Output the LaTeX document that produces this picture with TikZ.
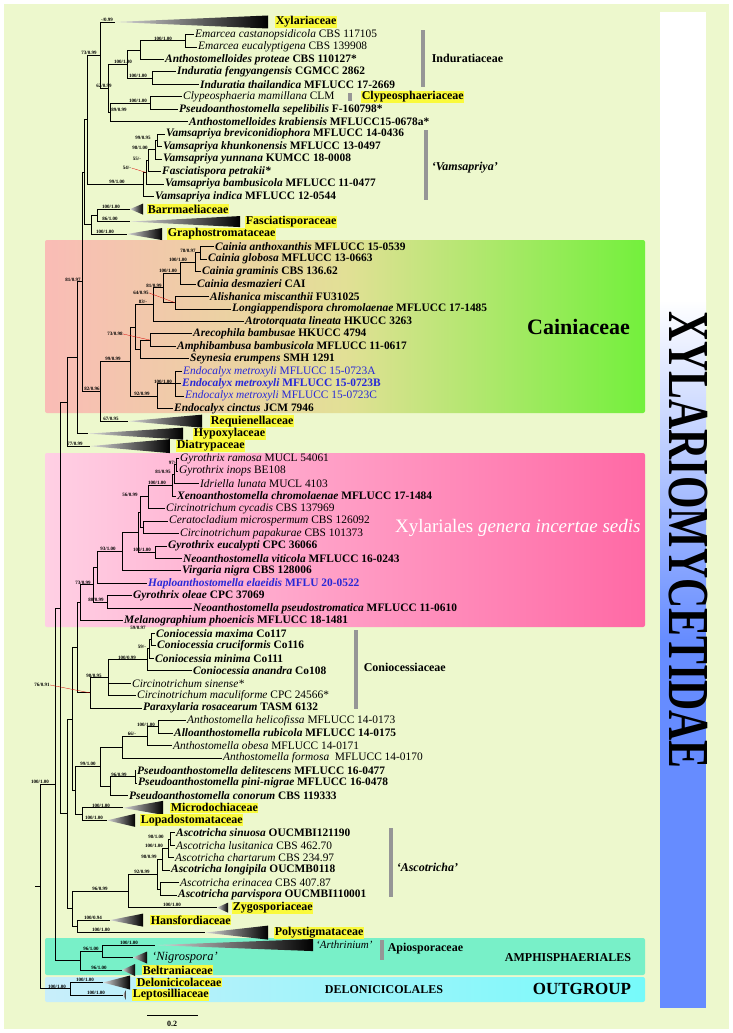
\documentclass[tikz,border=0pt]{standalone}
\usepackage{fontspec}
\usepackage{graphicx}
\setmainfont{Liberation Serif}
\usetikzlibrary{calc}
\definecolor{bgc}{RGB}{237,248,205}
\definecolor{cpink}{RGB}{250,188,182}
\definecolor{cmid}{RGB}{226,224,150}
\definecolor{cgreen}{RGB}{115,240,60}
\definecolor{ipinkL}{RGB}{255,208,228}
\definecolor{ipinkR}{RGB}{255,105,165}
\definecolor{amph}{RGB}{120,240,200}
\definecolor{outL}{RGB}{200,238,250}
\definecolor{outR}{RGB}{118,250,250}
\definecolor{barblue}{RGB}{102,140,255}
\definecolor{txtblue}{RGB}{40,40,215}
\definecolor{hl}{RGB}{250,250,60}
\definecolor{gbar}{RGB}{150,150,150}
\newcommand\cladetri[5]{%
  \coordinate (#1) at (#2,#3);
  \shade[left color=black!15, right color=black] (#1) -- (#4,{#3-#5/12.474}) -- (#4,{#3+#5/12.474}) -- cycle;}
\begin{document}
\begin{tikzpicture}[x=1pt,y=-1pt,
  br/.style={line width=0.8pt},
  lr/.style={anchor=west, inner sep=1pt, font=\fontsize{11.4}{12}\selectfont},
  lb/.style={anchor=west, inner sep=1pt, font=\fontsize{11.4}{12}\selectfont\bfseries},
  bs/.style={anchor=south, inner sep=0.4pt, font=\fontsize{5}{5}\selectfont\bfseries},
  fam/.style={anchor=west, inner sep=0.6pt, fill=hl, font=\fontsize{12}{13}\selectfont\bfseries},
  brk/.style={anchor=west, inner sep=0.6pt, font=\fontsize{12}{13}\selectfont\bfseries},
  lead/.style={red!85!black, line width=0.3pt}]
\useasboundingbox (0,0) rectangle (733,1033);
\fill[white] (0,0) rectangle (733,1033);
\fill[bgc] (4,4) rectangle (729,1029);
% coloured boxes
\shade[left color=cpink, right color=cgreen, middle color=cmid, rounded corners=2pt] (45,240) rectangle (645,413);
\shade[left color=ipinkL, right color=ipinkR, rounded corners=2pt] (45,453) rectangle (645,627);
\fill[amph, rounded corners=2pt] (45,938) rectangle (645,975);
\shade[left color=outL, right color=outR, rounded corners=2pt] (45,977) rectangle (645,1002);
% right bar
\fill[white] (660,12) rectangle (706,300);
\shade[top color=white, bottom color=barblue] (660,300) rectangle (706,640);
\fill[barblue] (660,640) rectangle (706,1008);
\node[rotate=-90, inner sep=0, font=\fontsize{58}{58}\selectfont\bfseries] (sub) at (688,540) {\scalebox{0.72}[1]{XYLARIOMYCETIDAE}};
% group texts
\node[anchor=west, inner sep=0, font=\fontsize{22}{22}\selectfont\bfseries] (cain) at (527,327) {Cainiaceae};
\node[anchor=west, inner sep=0, text=white, font=\fontsize{19}{19}\selectfont] (incs) at (395,528) {Xylariales \textit{genera incertae sedis}};
\node[inner sep=0, font=\fontsize{12}{12}\selectfont\bfseries] (amphis) at (568,958) {AMPHISPHAERIALES};
\node[inner sep=0, font=\fontsize{12}{12}\selectfont\bfseries] (delonic) at (384,990) {DELONICICOLALES};
\node[inner sep=0, font=\fontsize{17}{17}\selectfont\bfseries] (outg) at (582,989) {OUTGROUP};
% grey bars and bracket labels
\fill[gbar] (421,30) rectangle (425,87);
\fill[gbar] (348,93) rectangle (352,101);
\fill[gbar] (424,130) rectangle (428,200);
\fill[gbar] (354,630) rectangle (358,709);
\fill[gbar] (389,828) rectangle (393,897);
\fill[gbar] (380,940) rectangle (384,960);
\node[brk] (bInd) at (431,58) {Induratiaceae};
\node[fam] (bCly) at (361,97) {Clypeosphaeriaceae};
\node[brk] (bVam) at (431,168) {\itshape `Vamsapriya'};
\node[brk] (bCon) at (363,667) {Coniocessiaceae};
\node[brk] (bAsc) at (396,867) {\itshape `Ascotricha'};
\node[brk] (bApi) at (387,949) {Apiosporaceae};
% scale bar
\coordinate (sb1) at (147,1015);
\coordinate (sb2) at (198,1015);
\draw[line width=0.8pt] (sb1) -- (sb2);
\node[inner sep=0, font=\fontsize{8}{8}\selectfont\bfseries] (sbl) at (172,1024) {0.2};

\begin{scope}[y=-12.474pt, yshift=-9.526pt]
% ---------- collapsed clades
\cladetri{xyl}{115}{1}{268}{6.5}
\cladetri{barr}{130}{16}{143}{5.5}
\cladetri{fasc}{130}{17}{240}{5.5}
\cladetri{graph}{127}{18}{162}{6}
\cladetri{requ}{128}{33}{202}{6.5}
\cladetri{hypo}{88}{34}{183}{6}
\cladetri{diat}{90}{35}{170}{7}
\cladetri{micro}{123}{64}{163}{7}
\cladetri{lopa}{107}{65}{135}{6.5}
\cladetri{zygo}{217}{72}{228}{5}
\cladetri{hansf}{110}{73}{143}{6.5}
\cladetri{poly}{205}{74}{268}{7}
\cladetri{arth}{155}{75}{313}{6}
\cladetri{nigro}{133}{76}{147}{6}
\cladetri{belt}{122}{77}{135}{6}
\cladetri{delon}{103}{78}{130}{7}
\cladetri{lepto}{123}{79}{126}{5}
\node[fam] (fXyl) at (275,1) {Xylariaceae};
\node[fam] (fBar) at (147,16) {Barrmaeliaceae};
\node[fam] (fFas) at (245,17) {Fasciatisporaceae};
\node[fam] (fGra) at (167,18) {Graphostromataceae};
\node[fam] (fReq) at (210,33) {Requienellaceae};
\node[fam] (fHyp) at (193,34) {Hypoxylaceae};
\node[fam] (fDia) at (176,35) {Diatrypaceae};
\node[fam] (fMic) at (170,64) {Microdochiaceae};
\node[fam] (fLop) at (140,65) {Lopadostomataceae};
\node[fam] (fZyg) at (232,72) {Zygosporiaceae};
\node[fam] (fHan) at (150,73) {Hansfordiaceae};
\node[fam] (fPol) at (274,74) {Polystigmataceae};
\node[lr, font=\fontsize{11}{12}\selectfont\itshape] (fArt) at (315,75) {`Arthrinium'};
\node[lr, font=\fontsize{12.5}{13}\selectfont\itshape] (fNig) at (151,76) {`Nigrospora'};
\node[fam] (fBel) at (142,77) {Beltraniaceae};
\node[fam] (fDel) at (136,78) {Delonicicolaceae};
\node[fam] (fLep) at (132,79) {Leptosilliaceae};
% ---------- leaves
\node[lr] (l2) at (194,2) {\itshape Emarcea castanopsidicola\upshape\ CBS 117105};
\node[lr] (l3) at (197,3) {\itshape Emarcea eucalyptigena\upshape\ CBS 139908};
\node[lb] (l4) at (164,4) {\itshape Anthostomelloides proteae\upshape\ CBS 110127*};
\node[lb] (l5) at (176,5) {\itshape Induratia fengyangensis\upshape\ CGMCC 2862};
\node[lb] (l6) at (199,6) {\itshape Induratia thailandica\upshape\ MFLUCC 17-2669};
\node[lr] (l7) at (182,7) {\itshape Clypeosphaeria mamillana\upshape\ CLM};
\node[lb] (l8) at (178,8) {\itshape Pseudoanthostomella sepelibilis\upshape\ F-160798*};
\node[lb] (l9) at (188,9) {\itshape Anthostomelloides krabiensis\upshape\ MFLUCC15-0678a*};
\node[lb] (l10) at (165,10) {\itshape Vamsapriya breviconidiophora\upshape\ MFLUCC 14-0436};
\node[lb] (l11) at (162,11) {\itshape Vamsapriya khunkonensis\upshape\ MFLUCC 13-0497};
\node[lb] (l12) at (162,12) {\itshape Vamsapriya yunnana\upshape\ KUMCC 18-0008};
\node[lb] (l13) at (161,13) {\itshape Fasciatispora petrakii*};
\node[lb] (l14) at (164,14) {\itshape Vamsapriya bambusicola\upshape\ MFLUCC 11-0477};
\node[lb] (l15) at (154,15) {\itshape Vamsapriya indica\upshape\ MFLUCC 12-0544};
\node[lb] (l19) at (214,19) {\itshape Cainia anthoxanthis\upshape\ MFLUCC 15-0539};
\node[lb] (l20) at (207,20) {\itshape Cainia globosa\upshape\ MFLUCC 13-0663};
\node[lb] (l21) at (201,21) {\itshape Cainia graminis\upshape\ CBS 136.62};
\node[lb] (l22) at (196,22) {\itshape Cainia desmazieri\upshape\ CAI};
\node[lb] (l23) at (209,23) {\itshape Alishanica miscanthii\upshape\ FU31025};
\node[lb] (l24) at (231,24) {\itshape Longiappendispora chromolaenae\upshape\ MFLUCC 17-1485};
\node[lb] (l25) at (244,25) {\itshape Atrotorquata lineata\upshape\ HKUCC 3263};
\node[lb] (l26) at (192,26) {\itshape Arecophila bambusae\upshape\ HKUCC 4794};
\node[lb] (l27) at (176,27) {\itshape Amphibambusa bambusicola\upshape\ MFLUCC 11-0617};
\node[lb] (l28) at (189,28) {\itshape Seynesia erumpens\upshape\ SMH 1291};
\node[lr, text=txtblue] (l29) at (182,29) {\itshape Endocalyx metroxyli\upshape\ MFLUCC 15-0723A};
\node[lb, text=txtblue] (l30) at (181,30) {\itshape Endocalyx metroxyli\upshape\ MFLUCC 15-0723B};
\node[lr, text=txtblue] (l31) at (184,31) {\itshape Endocalyx metroxyli\upshape\ MFLUCC 15-0723C};
\node[lb] (l32) at (173,32) {\itshape Endocalyx cinctus\upshape\ JCM 7946};
\node[lr] (l36) at (179,36) {\itshape Gyrothrix ramosa\upshape\ MUCL 54061};
\node[lr] (l37) at (178,37) {\itshape Gyrothrix inops\upshape\ BE108};
\node[lr] (l38) at (199,38) {\itshape Idriella lunata\upshape\ MUCL 4103};
\node[lb] (l39) at (176,39) {\itshape Xenoanthostomella chromolaenae\upshape\ MFLUCC 17-1484};
\node[lr] (l40) at (165,40) {\itshape Circinotrichum cycadis\upshape\ CBS 137969};
\node[lr] (l41) at (168,41) {\itshape Ceratocladium microspermum\upshape\ CBS 126092};
\node[lr] (l42) at (179,42) {\itshape Circinotrichum papakurae\upshape\ CBS 101373};
\node[lb] (l43) at (167,43) {\itshape Gyrothrix eucalypti\upshape\ CPC 36066};
\node[lb] (l44) at (182,44) {\itshape Neoanthostomella viticola\upshape\ MFLUCC 16-0243};
\node[lb] (l45) at (181,45) {\itshape Virgaria nigra\upshape\ CBS 128006};
\node[lb, text=txtblue] (l46) at (147,46) {\itshape Haploanthostomella elaeidis\upshape\ MFLU 20-0522};
\node[lb] (l47) at (132,47) {\itshape Gyrothrix oleae\upshape\ CPC 37069};
\node[lb] (l48) at (192,48) {\itshape Neoanthostomella pseudostromatica\upshape\ MFLUCC 11-0610};
\node[lb] (l49) at (123,49) {\itshape Melanographium phoenicis\upshape\ MFLUCC 18-1481};
\node[lb] (l50) at (155,50) {\itshape Coniocessia maxima\upshape\ Co117};
\node[lb] (l51) at (156,51) {\itshape Coniocessia cruciformis\upshape\ Co116};
\node[lb] (l52) at (154,52) {\itshape Coniocessia minima\upshape\ Co111};
\node[lb] (l53) at (192,53) {\itshape Coniocessia anandra\upshape\ Co108};
\node[lr] (l54) at (131,54) {\itshape Circinotrichum sinense*};
\node[lr] (l55) at (136,55) {\itshape Circinotrichum maculiforme\upshape\ CPC 24566*};
\node[lb] (l56) at (142,56) {\itshape Paraxylaria rosacearum\upshape\ TASM 6132};
\node[lr] (l57) at (186,57) {\itshape Anthostomella helicofissa\upshape\ MFLUCC 14-0173};
\node[lb] (l58) at (173,58) {\itshape Alloanthostomella rubicola\upshape\ MFLUCC 14-0175};
\node[lr] (l59) at (172,59) {\itshape Anthostomella obesa\upshape\ MFLUCC 14-0171};
\node[lr] (l60) at (222,60) {\itshape Anthostomella formosa\upshape\ \ MFLUCC 14-0170};
\node[lb] (l61) at (136,61) {\itshape Pseudoanthostomella delitescens\upshape\ MFLUCC 16-0477};
\node[lb] (l62) at (137,62) {\itshape Pseudoanthostomella pini-nigrae\upshape\ MFLUCC 16-0478};
\node[lb] (l63) at (128,63) {\itshape Pseudoanthostomella conorum\upshape\ CBS 119333};
\node[lb] (l66) at (175,66) {\itshape Ascotricha sinuosa\upshape\ OUCMBI121190};
\node[lr] (l67) at (175,67) {\itshape Ascotricha lusitanica\upshape\ CBS 462.70};
\node[lr] (l68) at (174,68) {\itshape Ascotricha chartarum\upshape\ CBS 234.97};
\node[lb] (l69) at (170,69) {\itshape Ascotricha longipila\upshape\ OUCMB0118};
\node[lr] (l70) at (179,70) {\itshape Ascotricha erinacea\upshape\ CBS 407.87};
\node[lb] (l71) at (177,71) {\itshape Ascotricha parvispora\upshape\ OUCMBI110001};
% ---------- internal nodes
\coordinate (E) at (185,2.5);
\coordinate (P) at (140,3.25);
\coordinate (I) at (152,5.5);
\coordinate (IND) at (127,4.375);
\coordinate (C) at (150,7.5);
\coordinate (C89) at (110,8.25);
\coordinate (N62) at (108,6.3125);
\coordinate (N73) at (100,3.656);
\coordinate (V1) at (157,10.5);
\coordinate (V2) at (155,11.25);
\coordinate (V3) at (148,12.125);
\coordinate (V4) at (146,13.0625);
\coordinate (V5) at (143,14.031);
\coordinate (U1) at (87,8.844);
\coordinate (G1) at (97,16.5);
\coordinate (G2) at (91,17.25);
\coordinate (U2) at (84,13.047);
\coordinate (Ca1) at (200,19.5);
\coordinate (Ca2) at (195,20.25);
\coordinate (Ca3) at (180,21.125);
\coordinate (AL) at (175,23.5);
\coordinate (Ca4) at (163,22.3125);
\coordinate (Ca5) at (153,23.656);
\coordinate (Ar) at (150,26.5);
\coordinate (Ar2) at (140,27.25);
\coordinate (Ca6) at (135,25.453);
\coordinate (En1) at (175,30);
\coordinate (En2) at (157,31);
\coordinate (Ncain) at (130,28.227);
\coordinate (N100) at (100,30.613);
\coordinate (N82) at (82,21.83);
\coordinate (N77) at (77,27.915);
\coordinate (N67) at (67,31.457);
\coordinate (Gy1) at (176,36.5);
\coordinate (Gy2) at (174,37.25);
\coordinate (Gy3) at (172,38.125);
\coordinate (Gy4) at (148,39.0625);
\coordinate (Ce1) at (143,41.5);
\coordinate (X3) at (140,40.28);
\coordinate (GV) at (155,43.5);
\coordinate (X4) at (138,41.89);
\coordinate (X2) at (122,43.445);
\coordinate (X5) at (97,44.72);
\coordinate (GO) at (107,47.5);
\coordinate (X6) at (93,46.11);
\coordinate (K1) at (80,47.555);
\coordinate (Co1) at (151,50.5);
\coordinate (Co2) at (149,51.25);
\coordinate (Co3) at (147,52.125);
\coordinate (Co4) at (108,53.5625);
\coordinate (Co5) at (90,54.78);
\coordinate (K2) at (77,51.17);
\coordinate (Ah1) at (158,57.5);
\coordinate (Ah2) at (147,58.25);
\coordinate (Ah3) at (122,59.125);
\coordinate (Ps1) at (135,61.5);
\coordinate (Ps2) at (110,62.25);
\coordinate (Ah4) at (100,60.69);
\coordinate (ML) at (82,64.5);
\coordinate (A5) at (75,62.6);
\coordinate (K3) at (72,56.88);
\coordinate (As1) at (170,66.5);
\coordinate (As2) at (168,67.25);
\coordinate (As3) at (162,68.125);
\coordinate (As4) at (160,70.5);
\coordinate (As5) at (157,69.3125);
\coordinate (As6) at (128,70.656);
\coordinate (Ha) at (77,73.5);
\coordinate (As7) at (72,72.08);
\coordinate (W) at (67,64.48);
\coordinate (XY) at (60,47.97);
\coordinate (Ap) at (102,75.5);
\coordinate (AM) at (80,76.25);
\coordinate (ING) at (55,62.11);
\coordinate (OG) at (70,78.5);
\coordinate (ROOT) at (40,70.3);
\coordinate (r0) at (35,70.3);
% ---------- branches
\draw[br] (N73) |- (xyl); \draw[br] (N73) |- (N62);
\draw[br] (N62) |- (IND); \draw[br] (N62) |- (C89);
\draw[br] (IND) |- (P); \draw[br] (IND) |- (I);
\draw[br] (P) |- (E); \draw[br] (P) |- (l4.west);
\draw[br] (E) |- (l2.west); \draw[br] (E) |- (l3.west);
\draw[br] (I) |- (l5.west); \draw[br] (I) |- (l6.west);
\draw[br] (C89) |- (C); \draw[br] (C89) |- (l9.west);
\draw[br] (C) |- (l7.west); \draw[br] (C) |- (l8.west);
\draw[br] (U1) |- (N73); \draw[br] (U1) |- (V5);
\draw[br] (V5) |- (V4); \draw[br] (V5) |- (l15.west);
\draw[br] (V4) |- (V3); \draw[br] (V4) |- (l14.west);
\draw[br] (V3) |- (V2); \draw[br] (V3) |- (l13.west);
\draw[br] (V2) |- (V1); \draw[br] (V2) |- (l12.west);
\draw[br] (V1) |- (l10.west); \draw[br] (V1) |- (l11.west);
\draw[br] (U2) |- (U1); \draw[br] (U2) |- (G2);
\draw[br] (G2) |- (G1); \draw[br] (G2) |- (graph);
\draw[br] (G1) |- (barr); \draw[br] (G1) |- (fasc);
\draw[br] (N82) |- (U2); \draw[br] (N82) |- (N100);
\draw[br] (N100) |- (Ncain); \draw[br] (N100) |- (requ);
\draw[br] (Ncain) |- (Ca6); \draw[br] (Ncain) |- (En2);
\draw[br] (Ca6) |- (Ca5); \draw[br] (Ca6) |- (Ar2);
\draw[br] (Ca5) |- (Ca4); \draw[br] (Ca5) |- (l25.west);
\draw[br] (Ca4) |- (Ca3); \draw[br] (Ca4) |- (AL);
\draw[br] (Ca3) |- (Ca2); \draw[br] (Ca3) |- (l22.west);
\draw[br] (Ca2) |- (Ca1); \draw[br] (Ca2) |- (l21.west);
\draw[br] (Ca1) |- (l19.west); \draw[br] (Ca1) |- (l20.west);
\draw[br] (AL) |- (l23.west); \draw[br] (AL) |- (l24.west);
\draw[br] (Ar2) |- (Ar); \draw[br] (Ar2) |- (l28.west);
\draw[br] (Ar) |- (l26.west); \draw[br] (Ar) |- (l27.west);
\draw[br] (En2) |- (En1); \draw[br] (En2) |- (l32.west);
\draw[br] (En1) |- (l29.west); \draw[br] (En1) |- (l30.west); \draw[br] (En1) |- (l31.west);
\draw[br] (N77) |- (N82); \draw[br] (N77) |- (hypo);
\draw[br] (N67) |- (N77); \draw[br] (N67) |- (diat);
\draw[br] (XY) |- (N67); \draw[br] (XY) |- (W);
\draw[br] (W) |- (K3); \draw[br] (W) |- (As7);
\draw[br] (K3) |- (K2); \draw[br] (K3) |- (A5);
\draw[br] (K2) |- (K1); \draw[br] (K2) |- (Co5);
\draw[br] (K1) |- (X6); \draw[br] (K1) |- (l49.west);
\draw[br] (X6) |- (X5); \draw[br] (X6) |- (GO);
\draw[br] (X5) |- (X2); \draw[br] (X5) |- (l46.west);
\draw[br] (GO) |- (l47.west); \draw[br] (GO) |- (l48.west);
\draw[br] (X2) |- (X4); \draw[br] (X2) |- (l45.west);
\draw[br] (X4) |- (X3); \draw[br] (X4) |- (GV);
\draw[br] (GV) |- (l43.west); \draw[br] (GV) |- (l44.west);
\draw[br] (X3) |- (Gy4); \draw[br] (X3) |- (Ce1);
\draw[br] (Ce1) |- (l41.west); \draw[br] (Ce1) |- (l42.west);
\draw[br] (Gy4) |- (Gy3); \draw[br] (Gy4) |- (l40.west);
\draw[br] (Gy3) |- (Gy2); \draw[br] (Gy3) |- (l39.west);
\draw[br] (Gy2) |- (Gy1); \draw[br] (Gy2) |- (l38.west);
\draw[br] (Gy1) |- (l36.west); \draw[br] (Gy1) |- (l37.west);
\draw[br] (Co5) |- (Co4); \draw[br] (Co5) |- (l56.west);
\draw[br] (Co4) |- (Co3); \draw[br] (Co4) |- (l54.west); \draw[br] (Co4) |- (l55.west);
\draw[br] (Co3) |- (Co2); \draw[br] (Co3) |- (l53.west);
\draw[br] (Co2) |- (Co1); \draw[br] (Co2) |- (l52.west);
\draw[br] (Co1) |- (l50.west); \draw[br] (Co1) |- (l51.west);
\draw[br] (A5) |- (Ah4); \draw[br] (A5) |- (ML);
\draw[br] (Ah4) |- (Ah3); \draw[br] (Ah4) |- (Ps2);
\draw[br] (Ah3) |- (Ah2); \draw[br] (Ah3) |- (l60.west);
\draw[br] (Ah2) |- (Ah1); \draw[br] (Ah2) |- (l59.west);
\draw[br] (Ah1) |- (l57.west); \draw[br] (Ah1) |- (l58.west);
\draw[br] (Ps2) |- (Ps1); \draw[br] (Ps2) |- (l63.west);
\draw[br] (Ps1) |- (l61.west); \draw[br] (Ps1) |- (l62.west);
\draw[br] (ML) |- (micro); \draw[br] (ML) |- (lopa);
\draw[br] (As7) |- (As6); \draw[br] (As7) |- (Ha);
\draw[br] (As6) |- (As5); \draw[br] (As6) |- (zygo);
\draw[br] (As5) |- (As3); \draw[br] (As5) |- (As4);
\draw[br] (As3) |- (As2); \draw[br] (As3) |- (l69.west);
\draw[br] (As2) |- (As1); \draw[br] (As2) |- (l68.west);
\draw[br] (As1) |- (l66.west); \draw[br] (As1) |- (l67.west);
\draw[br] (As4) |- (l70.west); \draw[br] (As4) |- (l71.west);
\draw[br] (Ha) |- (hansf); \draw[br] (Ha) |- (poly);
\draw[br] (ING) |- (XY); \draw[br] (ING) |- (AM);
\draw[br] (AM) |- (Ap); \draw[br] (AM) |- (belt);
\draw[br] (Ap) |- (arth); \draw[br] (Ap) |- (nigro);
\draw[br] (ROOT) |- (ING); \draw[br] (ROOT) |- (OG);
\draw[br] (OG) |- (delon); \draw[br] (OG) |- (lepto);
\draw[br] (ROOT) -- (r0);
% ---------- support values
\node[bs] at (107,0 |- xyl) {-/0.99};
\node[bs] at (89,0 |- N73) {73/0.99};
\node[bs] at (163,0 |- E) {100/1.00};
\node[bs] at (123,0 |- IND) {100/1.00};
\node[bs] at (138,0 |- I) {100/1.00};
\node[bs] at (104,0 |- N62) {62/0.99};
\node[bs] at (138,0 |- C) {100/1.00};
\node[bs] at (119,0 |- C89) {89/0.99};
\node[bs] at (143,0 |- V1) {99/0.95};
\node[bs] at (140,0 |- V2) {98/1.00};
\node[bs] at (137,0 |- V3) {55/-};
\node[bs] at (117,0 |- V5) {99/1.00};
\node[bs] at (111,0 |- barr) {100/1.00};
\node[bs] at (110,0 |- fasc) {86/1.00};
\node[bs] at (105,0 |- graph) {100/1.00};
\node[bs] at (73,0 |- N82) {81/0.97};
\node[bs] at (188,0 |- Ca1) {78/0.97};
\node[bs] at (178,0 |- Ca2) {100/1.00};
\node[bs] at (168,0 |- Ca3) {100/1.00};
\node[bs] at (154,0 |- Ca4) {81/0.99};
\node[bs] at (143,0 |- Ca5) {83/-};
\node[bs] at (113,0 |- Ncain) {99/0.99};
\node[bs] at (163,0 |- En1) {100/1.00};
\node[bs] at (92,0 |- N100) {82/0.96};
\node[bs] at (142,0 |- En2) {92/0.99};
\node[bs] at (111,0 |- requ) {67/0.95};
\node[bs] at (75,0 |- diat) {77/0.99};
\node[bs] at (173,0 |- Gy1) {97/-};
\node[bs] at (163,0 |- Gy2) {81/0.95};
\node[bs] at (157,0 |- Gy3) {100/1.00};
\node[bs] at (130,0 |- Gy4) {56/0.99};
\node[bs] at (108,0 |- X2) {93/1.00};
\node[bs] at (142,0 |- GV) {100/1.00};
\node[bs] at (83,0 |- X6) {73/0.99};
\node[bs] at (96,0 |- GO) {80/0.99};
\node[bs] at (142,0 |- Co2) {59/-};
\node[bs] at (127,0 |- Co3) {100/0.99};
\node[bs] at (94,0 |- Co4) {98/0.95};
\node[bs] at (146,0 |- Ah1) {100/1.00};
\node[bs] at (132,0 |- Ah2) {66/-};
\node[bs] at (88,0 |- Ah4) {99/1.00};
\node[bs] at (119,0 |- Ps1) {96/0.99};
\node[bs] at (40,0 |- ING) {100/1.00};
\node[bs] at (101,0 |- micro) {100/1.00};
\node[bs] at (94,0 |- lopa) {100/1.00};
\node[bs] at (156,0 |- As1) {98/1.00};
\node[bs] at (154,0 |- As2) {100/1.00};
\node[bs] at (149,0 |- As3) {98/0.99};
\node[bs] at (142,0 |- As5) {92/0.99};
\node[bs] at (100,0 |- As6) {96/0.99};
\node[bs] at (172,0 |- zygo) {100/1.00};
\node[bs] at (93,0 |- hansf) {100/0.94};
\node[bs] at (101,0 |- poly) {100/1.00};
\node[bs] at (129,0 |- arth) {100/1.00};
\node[bs] at (91,0 |- Ap) {96/1.00};
\node[bs] at (99,0 |- belt) {96/1.00};
\node[bs] at (85,0 |- delon) {100/1.00};
\node[bs] at (57,0 |- OG) {100/1.00};
\node[bs] at (96,0 |- lepto) {100/1.00};
\end{scope}
% labels with leader lines (pixel coordinates)
\node[bs, anchor=center] (s54) at (127,168) {54/-};
\node[bs, anchor=center] (s64) at (141,293) {64/0.95};
\node[bs, anchor=center] (s73) at (115,334) {73/0.98};
\node[bs, anchor=center] (s76) at (42,685) {76/0.91};
\node[bs, anchor=center] (s59) at (138,628) {59/0.97};
\draw[lead] (s54.east) -- (V4);
\draw[lead] (s64.east) -- (AL);
\draw[lead] (s73.east) -- (Ar);
\draw[lead] (s76.east) -- (Co5);
\end{tikzpicture}
\end{document}
